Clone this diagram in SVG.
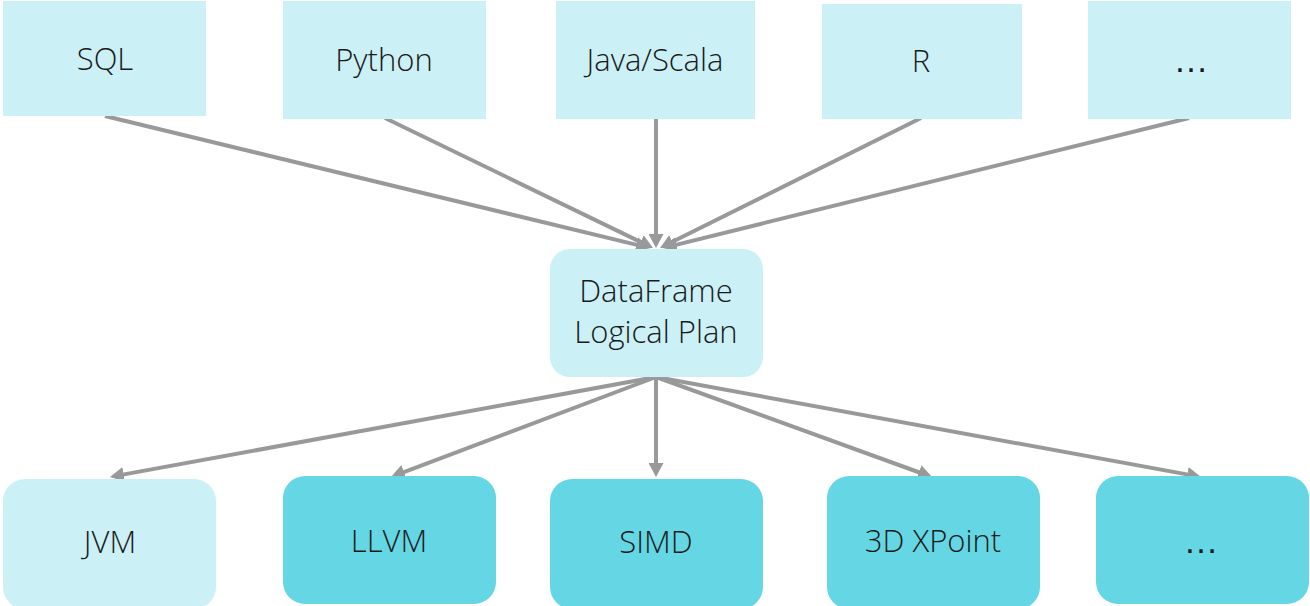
<svg xmlns="http://www.w3.org/2000/svg" width="1310" height="606" viewBox="0 0 1310 606">
<style>
.light{fill:#cbf0f6}
.dark{fill:#64d6e4}
text{font-family:"Open Sans","Noto Sans","Liberation Sans",sans-serif;font-weight:300;font-size:31px;fill:#1a1a1a;text-anchor:middle}
text.ell{font-family:"Liberation Sans",sans-serif;font-weight:normal;font-size:35px}
.edge{stroke:#999999;stroke-width:4;fill:none}
</style>
<defs>
<marker id="arr" viewBox="0 0 14 15" refX="8" refY="7.5" markerWidth="14" markerHeight="15" markerUnits="userSpaceOnUse" orient="auto">
<path d="M0,0 L14,7.5 L0,15 z" fill="#999999"/>
</marker>
</defs>
<rect width="1310" height="606" fill="#ffffff"/>
<g id="connectors">
<line class="edge" x1="105" y1="116" x2="644.2" y2="246.6" marker-end="url(#arr)"/>
<line class="edge" x1="385" y1="118" x2="647.6" y2="245.4" marker-end="url(#arr)"/>
<line class="edge" x1="656" y1="118" x2="656" y2="242" marker-end="url(#arr)"/>
<line class="edge" x1="921" y1="118" x2="665.4" y2="245.3" marker-end="url(#arr)"/>
<line class="edge" x1="1189" y1="118" x2="668.8" y2="246.6" marker-end="url(#arr)"/>
<line class="edge" x1="656" y1="377" x2="115.9" y2="475.9" marker-end="url(#arr)"/>
<line class="edge" x1="656" y1="377" x2="396.6" y2="474.9" marker-end="url(#arr)"/>
<line class="edge" x1="656" y1="377" x2="656" y2="471" marker-end="url(#arr)"/>
<line class="edge" x1="656" y1="377" x2="926.4" y2="475.0" marker-end="url(#arr)"/>
<line class="edge" x1="656" y1="377" x2="1195.1" y2="475.9" marker-end="url(#arr)"/>
</g>
<g id="sql"><rect class="light" x="3" y="1" width="203" height="115"/><text x="105" y="70">SQL</text></g>
<g id="python"><rect class="light" x="283" y="1" width="203" height="118"/><text x="384" y="71">Python</text></g>
<g id="javascala"><rect class="light" x="556" y="1" width="199" height="118"/><text x="655" y="71">Java/Scala</text></g>
<g id="r"><rect class="light" x="822" y="4" width="200" height="115"/><text x="921" y="72">R</text></g>
<g id="more-lang"><rect class="light" x="1088" y="1" width="203" height="118"/><text class="ell" x="1191" y="72">…</text></g>
<g id="dataframe"><rect class="light" x="550" y="249" width="213" height="128" rx="20" ry="20"/><text x="656" y="302">DataFrame</text><text x="656" y="343">Logical Plan</text></g>
<g id="jvm"><rect class="light" x="3" y="479" width="213" height="130" rx="22" ry="22"/><text x="110" y="553">JVM</text></g>
<g id="llvm"><rect class="dark" x="283" y="476" width="213" height="128" rx="22" ry="22"/><text x="389" y="552">LLVM</text></g>
<g id="simd"><rect class="dark" x="550" y="479" width="213" height="130" rx="22" ry="22"/><text x="656" y="553">SIMD</text></g>
<g id="xpoint"><rect class="dark" x="827" y="476" width="213" height="133" rx="22" ry="22"/><text x="933" y="552">3D XPoint</text></g>
<g id="more-target"><rect class="dark" x="1096" y="476" width="213" height="128" rx="22" ry="22"/><text class="ell" x="1201" y="553">…</text></g>
</svg>
